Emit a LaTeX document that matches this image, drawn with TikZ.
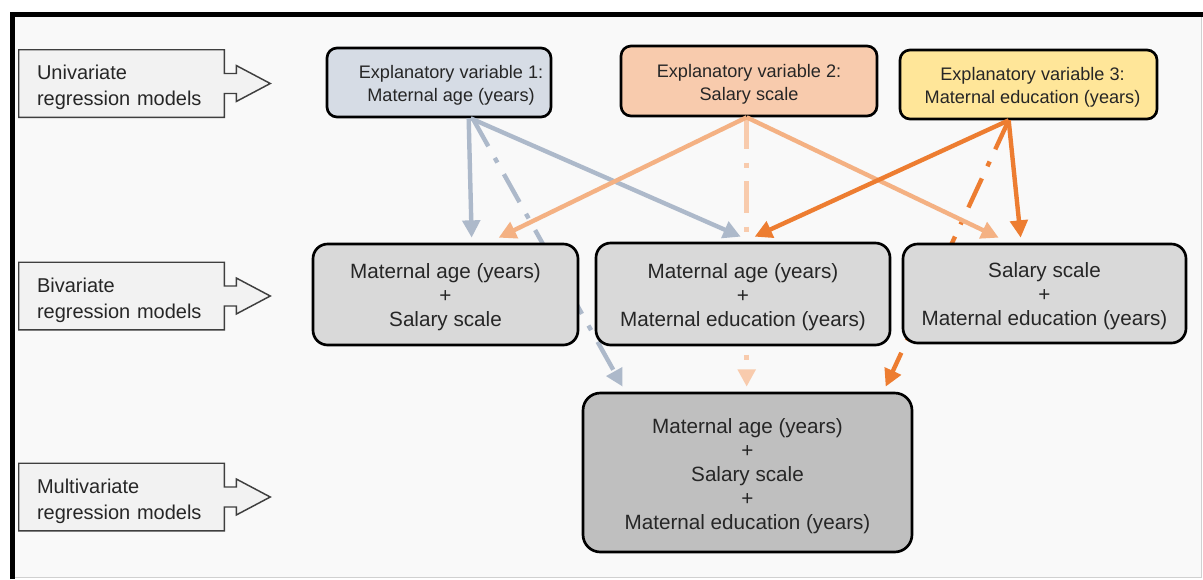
\documentclass[tikz,border=0pt]{standalone}
\usepackage{fontspec}
\setmainfont{Liberation Sans}
\usetikzlibrary{calc,arrows.meta}
\definecolor{bgc}{HTML}{F9F9F9}
\definecolor{lblfill}{HTML}{F2F2F2}
\definecolor{lbldraw}{HTML}{3F3F3F}
\definecolor{cafill}{HTML}{D6DCE5}
\definecolor{cbfill}{HTML}{F8CBAD}
\definecolor{ccfill}{HTML}{FFE699}
\definecolor{bifill}{HTML}{D9D9D9}
\definecolor{multifill}{HTML}{BFBFBF}
\definecolor{cblue}{HTML}{ADB9CA}
\definecolor{cpeach}{HTML}{F4B183}
\definecolor{cpeachl}{HTML}{F8CBAD}
\definecolor{corange}{HTML}{ED7D31}
\definecolor{framegray}{HTML}{D0D0D0}
\definecolor{txtc}{HTML}{262626}
\pgfdeclarelayer{back}
\pgfsetlayers{back,main}
\begin{document}
\begin{tikzpicture}[x=0.75pt,y=-0.75pt,
  topbox/.style={draw=black, line width=2pt, rounded corners=7.5pt, inner sep=0pt},
  toptext/.style={align=center, text=txtc, font=\fontsize{13.6}{17.5}\selectfont, inner sep=0pt},
  bibox/.style={draw=black, line width=2pt, rounded corners=11pt, fill=bifill, inner sep=0pt},
  bitext/.style={align=center, text=txtc, font=\fontsize{15.5}{18}\selectfont, inner sep=0pt},
  lblbox/.style={inner xsep=13.5pt, inner ysep=0pt, text width=126.75pt, minimum height=50.25pt},
  lbltext/.style={align=left, text=txtc, font=\fontsize{15}{19.5}\selectfont, inner sep=0pt, text width=126.75pt},
  lblshape/.style={draw=lbldraw, fill=lblfill, line width=1.1pt},
  arr/.style={line width=3.3pt, -{Triangle[length=13pt,width=13pt]}},
  ddash/.style={dash pattern=on 24pt off 10pt on 4pt off 10pt}
]
\useasboundingbox (0,0) rectangle (1203,579);

% top boxes
\node[topbox, fill=cafill, minimum width=168pt, minimum height=51.75pt] (v1) at (439,82.5) {};
\node[toptext] (v1t) at ($(v1)+(12,3)$) {Explanatory variable 1:\\Maternal age (years)};
\node[topbox, fill=cbfill, minimum width=192pt, minimum height=52.5pt] (v2) at (749,81) {};
\node[toptext] (v2t) at ($(v2)+(0,3)$) {Explanatory variable 2:\\Salary scale};
\node[topbox, fill=ccfill, minimum width=192.75pt, minimum height=51.75pt] (v3) at (1028.5,84.5) {};
\node[toptext] (v3t) at ($(v3)+(4,3)$) {Explanatory variable 3:\\Maternal education (years)};

% bivariate boxes
\node[bibox, minimum width=198.75pt, minimum height=75.75pt] (b1) at (445.5,294.5) {};
\node[bitext] (b1t) at ($(b1)+(0,3)$) {Maternal age (years)\\+\\Salary scale};
\node[bibox, minimum width=220.5pt, minimum height=76.5pt] (b2) at (743,294) {};
\node[bitext] (b2t) at ($(b2)+(0,3)$) {Maternal age (years)\\+\\Maternal education (years)};
\node[bibox, minimum width=212.25pt, minimum height=74.25pt] (b3) at (1044.5,293.5) {};
\node[bitext] (b3t) at ($(b3)+(0,3)$) {Salary scale\\+\\Maternal education (years)};

% multivariate box
\node[bibox, fill=multifill, rounded corners=13pt, minimum width=246.75pt, minimum height=119.25pt] (m) at (747.5,472.5) {};
\node[bitext] (mt) at ($(m)+(0,3.5)$)
  {Maternal age (years)\\+\\Salary scale\\+\\Maternal education (years)};

% left labels
\foreach \nm/\yy/\txt in {u/83.5/{Univariate\\regression models},
                          bv/296/{Bivariate\\regression models},
                          mv/497/{Multivariate\\regression models}}{
  \node[lblbox] (\nm) at (121.5,\yy) {};
  \draw[lblshape] (\nm.north west) -- (\nm.north east) -- ($(\nm.east)+(0,-10)$)
    -- ++(12,0) -- ++(0,-8) -- ($(\nm.east)+(46,0)$) -- ($(\nm.east)+(12,18)$)
    -- ++(0,-8) -- ++(-12,0) -- (\nm.south east) -- (\nm.south west) -- cycle;
  \node[lbltext] (\nm t) at ($(\nm)+(0,4)$) {\txt};
}

\begin{pgfonlayer}{back}
  \fill[white] (0,0) rectangle (1203,579);
  \fill[bgc] (12,14) rectangle (1201,577);
  % dash-dot connectors to the multivariate model (behind the bivariate boxes)
  \draw[arr, ddash, cblue] ($(v1.south west)+(147,0)$) -- ($(m.north west)+(41,-5)$);
  \draw[arr, ddash, cpeachl] ($(v2.south west)+(127,0)$) -- ($(m.north west)+(165,-5)$);
  \draw[arr, ddash, corange] ($(v3.south west)+(110,0)$) -- ($(m.north west)+(304,-5)$);
\end{pgfonlayer}

% frame
\draw[framegray, line width=0.9pt] (12,577.5) -- (1201.5,577.5) -- (1201.5,14);
\draw[black, line width=3.75pt] (12,579) -- (12,14) -- (1203,14);

% solid connectors
\draw[arr, cblue] ($(v1.south west)+(143,0)$) -- ($(b1.north west)+(160,-5)$);
\draw[arr, cblue] ($(v1.south west)+(145,0)$) -- ($(b2.north west)+(146,-5)$);
\draw[arr, cpeach] ($(v2.south west)+(127,0)$) -- ($(b1.north west)+(187,-5)$);
\draw[arr, cpeach] ($(v2.south west)+(127,0)$) -- ($(b3.north west)+(97,-5)$);
\draw[arr, corange] ($(v3.south west)+(110,0)$) -- ($(b2.north west)+(160,-5)$);
\draw[arr, corange] ($(v3.south west)+(110,0)$) -- ($(b3.north west)+(119,-5)$);
\end{tikzpicture}
\end{document}
